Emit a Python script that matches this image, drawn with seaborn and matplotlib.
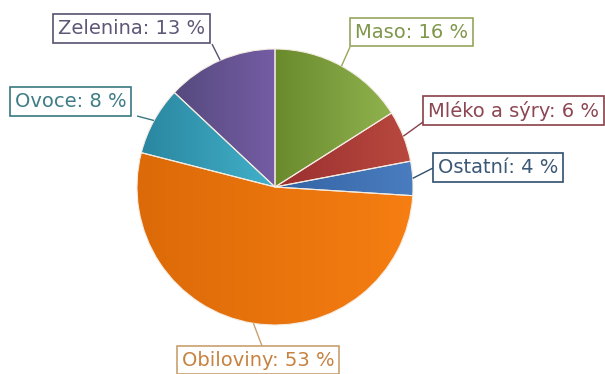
import numpy as np
import matplotlib
matplotlib.use("Agg")
import matplotlib.pyplot as plt
import seaborn as sns

# Food consumption structure (percent shares)
categories = ["Maso", "Mléko a sýry", "Ostatní", "Obiloviny", "Ovoce", "Zelenina"]
shares = [16, 6, 4, 53, 8, 13]

# slice gradients (dark -> light), label text and frame colours
slice_dark = ["#6a8a2c", "#9a2f2f", "#3363a3", "#dc6a08", "#2a86a0", "#554a7e"]
slice_light = ["#8fb24e", "#b9493f", "#4a7dc0", "#f67e12", "#42b0c9", "#755ca4"]
text_colors = ["#7f974a", "#8c4752", "#3b5876", "#c7823f", "#3e7d86", "#5e5777"]
frame_colors = ["#95a75c", "#8a3f48", "#2f4f70", "#c9a070", "#3a7880", "#58506f"]

W, H = 605, 374
sns.set_theme(style="white")
plt.rcParams["font.family"] = ["DejaVu Sans"]

fig = plt.figure(figsize=(W / 100, H / 100), dpi=100)
ax = fig.add_axes([0, 0, 1, 1])


def px(x, y):
    """Convert top-left pixel layout coordinates to data coordinates."""
    return x, H - y


cx, cy = px(275, 187)
R = 138
wedges, _ = ax.pie(
    shares,
    radius=R,
    center=(cx, cy),
    startangle=90,
    counterclock=False,
    wedgeprops=dict(facecolor="none", edgecolor="#f4ece2", linewidth=0.8),
)

# horizontal gradient fill for every slice, clipped to its wedge
for w, c0, c1 in zip(wedges, slice_dark, slice_light):
    ext = w.get_path().get_extents()
    grad = np.array(sns.blend_palette([c0, c1], 128))[None, :, :3]
    im = ax.imshow(grad, extent=(ext.x0, ext.x1, ext.y0, ext.y1),
                   aspect="auto", interpolation="bilinear", zorder=1)
    im.set_clip_path(w)
    w.set_zorder(2)

# label placement: text left edge / vertical centre, leader end point
label_pos = [(355, 32), (428, 110.5), (438, 167.5), (182, 360), (15, 101.5), (58, 28.5)]
leader_end = [(350, 47), (423, 122), (433, 168), (262, 346), (137, 116), (212, 44)]

for w, cat, val, tc, fc, lp, le in zip(wedges, categories, shares, text_colors,
                                       frame_colors, label_pos, leader_end):
    mid = np.deg2rad((w.theta1 + w.theta2) / 2)
    sx, sy = cx + R * np.cos(mid), cy + R * np.sin(mid)
    ex, ey = px(*le)
    ax.plot([sx, ex], [sy, ey], color=fc, lw=1.0, zorder=3, solid_capstyle="butt")
    tx, ty = px(*lp)
    ax.text(tx, ty, f"{cat}: {val} %", ha="left", va="center", fontsize=14,
            color=tc, zorder=4,
            bbox=dict(boxstyle="square,pad=0.25", fc="white", ec=fc, lw=1.2))

ax.set_xlim(0, W)
ax.set_ylim(0, H)
ax.set_aspect("equal")
ax.set_axis_off()

fig.savefig("out.png", dpi=100, facecolor="white")
